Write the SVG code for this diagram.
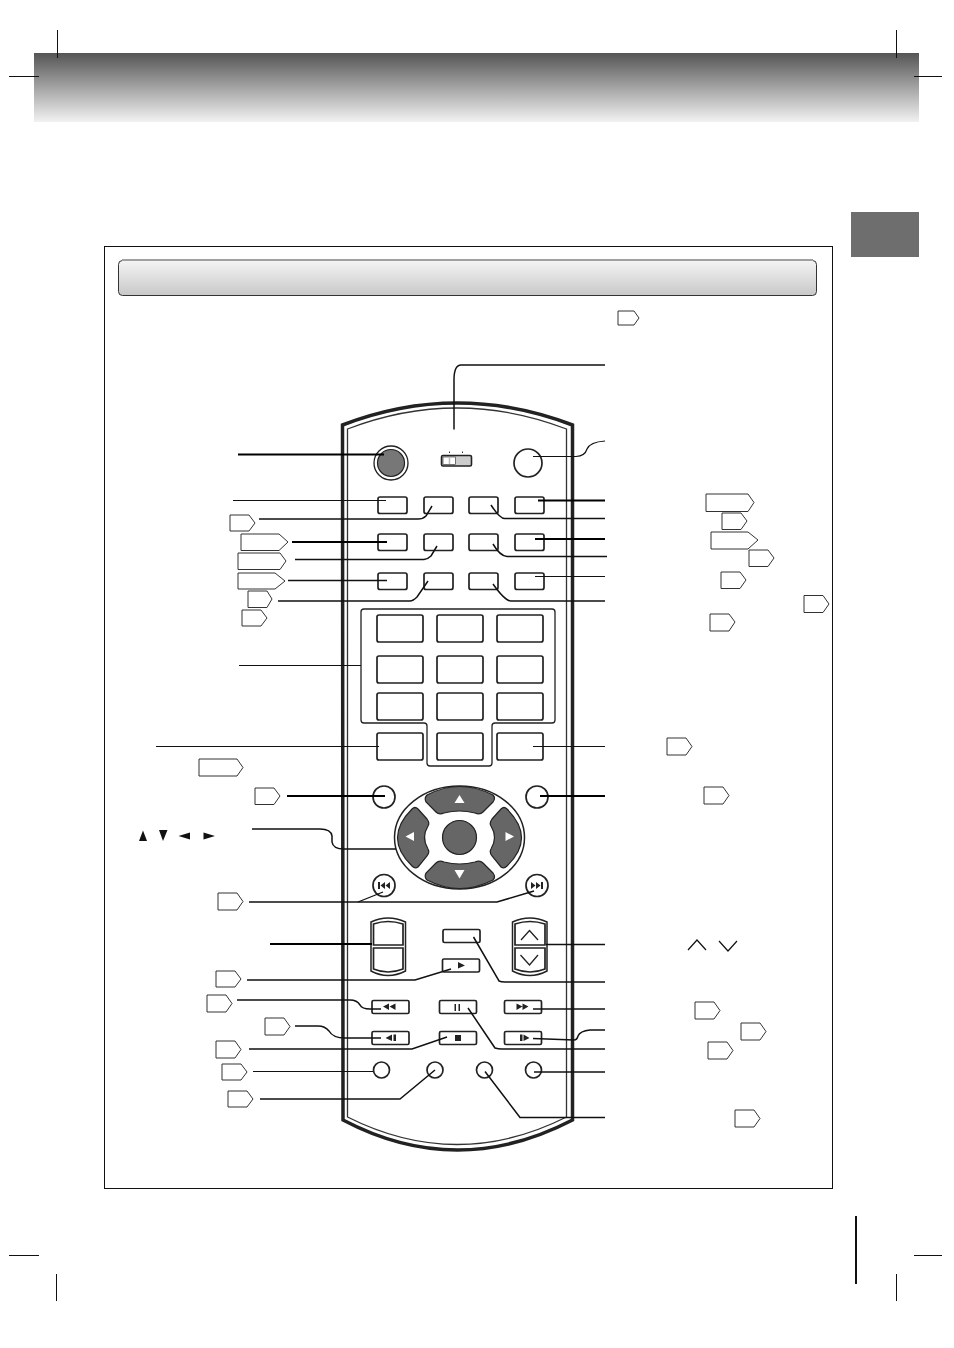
<svg xmlns="http://www.w3.org/2000/svg" width="954" height="1348" viewBox="0 0 954 1348">
<defs>
<linearGradient id="hdr" x1="0" y1="0" x2="0" y2="1"><stop offset="0" stop-color="#555"/><stop offset="1" stop-color="#f2f2f2"/></linearGradient>
<linearGradient id="bar" x1="0" y1="0" x2="0" y2="1"><stop offset="0" stop-color="#f4f4f4"/><stop offset="1" stop-color="#c8c8c8"/></linearGradient>
</defs>
<style>
.btn{fill:#fff;stroke:#222;stroke-width:1.7}
.tag{fill:#fff;stroke:#333;stroke-width:1;stroke-linejoin:round}
.c1{fill:none;stroke:#111;stroke-width:1.2}
.c3{fill:none;stroke:#111;stroke-width:1.5}
.c2{fill:none;stroke:#000;stroke-width:2}
.g{fill:#666;stroke:#222;stroke-width:1.2}
.k{fill:#222}
.w{fill:#fff}
</style>
<rect width="954" height="1348" fill="#fff"/>
<g id="page">
<rect x="34" y="53" width="885" height="69" fill="url(#hdr)"/>
<rect x="851" y="212" width="68" height="45" fill="#6e6e6e"/>
<rect x="104.500" y="246.500" width="728" height="942" fill="none" stroke="#111"/>
<rect x="118.500" y="260.500" width="698" height="35" rx="4" fill="url(#bar)" stroke="#333"/>
<path d="M122 260H813" stroke="#a0a0a0" stroke-width="2"/>
<path d="M57.500 30V58M9 76.500H39M896.500 30V58M914 76.500H942M56.500 1274V1301M9 1255.500H39M896.500 1274V1301M914 1255.500H942" stroke="#111" fill="none"/>
<path d="M856 1216V1284" stroke="#111" stroke-width="2"/>
</g>
<g id="tags" class="tags">
<path class="tag" d="M618 311H634L639 318L634 325H618Z"/>
<path class="tag" d="M230 515H249L255 523L249 531H230Z"/>
<path class="tag" d="M241 534H279L288 542L279 550.500H241Z"/>
<path class="tag" d="M238 553H280L286 561L280 569.500H238Z"/>
<path class="tag" d="M238 573H275L285 581L275 589H238Z"/>
<path class="tag" d="M248 591H267L272 599L267 607.500H248Z"/>
<path class="tag" d="M242 610H261L267 618L261 626H242Z"/>
<path class="tag" d="M706 494H748L754 502.500L748 511.500H706Z"/>
<path class="tag" d="M722 513H741L747 521L741 529.500H722Z"/>
<path class="tag" d="M711 532H748L758 540L748 549H711Z"/>
<path class="tag" d="M749 550H768L774 558L768 566.500H749Z"/>
<path class="tag" d="M721 572H740L746 580L740 588.500H721Z"/>
<path class="tag" d="M804 595.500H823L829 604L823 612.500H804Z"/>
<path class="tag" d="M710 614H729L735 622L729 631H710Z"/>
<path class="tag" d="M667 738H686L692 746.500L686 755H667Z"/>
<path class="tag" d="M704 787H723L729 795.500L723 804H704Z"/>
<path class="tag" d="M199 759H237L243 767.500L237 776H199Z"/>
<path class="tag" d="M255 788H274L280 796L274 804.500H255Z"/>
<path class="tag" d="M218 893H237L243 901.500L237 910H218Z"/>
<path class="tag" d="M216 971H235L241 979L235 987H216Z"/>
<path class="tag" d="M207 995H226L232 1003.500L226 1012H207Z"/>
<path class="tag" d="M265 1018H284L290 1026.500L284 1035H265Z"/>
<path class="tag" d="M216 1041H235L241 1049.500L235 1058H216Z"/>
<path class="tag" d="M222 1064H241L247 1072L241 1080H222Z"/>
<path class="tag" d="M228 1091H247L253 1099L247 1107H228Z"/>
<path class="tag" d="M695 1002H714L720 1010.500L714 1019H695Z"/>
<path class="tag" d="M741 1023H760L766 1031.500L760 1040H741Z"/>
<path class="tag" d="M708 1042H727L733 1050.500L727 1059H708Z"/>
<path class="tag" d="M735 1110H754L760 1118.500L754 1127H735Z"/>
</g>
<g id="remote">
<path d="M342.500 425Q457 381 572.500 425V1120Q457 1180 343 1120Z" fill="#fff" stroke="#222" stroke-width="3.500"/>
<path d="M347.500 429Q457 387 566.500 429V1117Q457 1172 347.500 1117Z" fill="none" stroke="#333" stroke-width="1.300"/>
</g>
<g id="top-buttons">
<circle cx="391" cy="463" r="17" fill="#fff" stroke="#222" stroke-width="1.300"/>
<circle cx="391" cy="463" r="13.500" fill="#777" stroke="#222" stroke-width="1.200"/>
<circle cx="528" cy="463" r="14" class="btn"/>
<rect x="441.500" y="455.500" width="30" height="10.500" rx="1.500" fill="#ccc" stroke="#222" stroke-width="1.600"/>
<rect x="443" y="457" width="12.500" height="7.500" fill="#fff" stroke="#222" stroke-width="0.600"/>
<path d="M449.500 457.500v6.500" stroke="#bbb" stroke-width="1.500"/>
<path d="M449.500 451.500v1.500M462.500 451.500v1.500" stroke="#333"/>
<rect class="btn" x="378" y="497" width="29" height="16.500" rx="2"/>
<rect class="btn" x="424" y="497" width="29" height="16.500" rx="2"/>
<rect class="btn" x="469" y="497" width="29" height="16.500" rx="2"/>
<rect class="btn" x="515" y="497" width="29" height="16.500" rx="2"/>
<rect class="btn" x="378" y="534" width="29" height="16.500" rx="2"/>
<rect class="btn" x="424" y="534" width="29" height="16.500" rx="2"/>
<rect class="btn" x="469" y="534" width="29" height="16.500" rx="2"/>
<rect class="btn" x="515" y="534" width="29" height="16.500" rx="2"/>
<rect class="btn" x="378" y="573" width="29" height="16.500" rx="2"/>
<rect class="btn" x="424" y="573" width="29" height="16.500" rx="2"/>
<rect class="btn" x="469" y="573" width="29" height="16.500" rx="2"/>
<rect class="btn" x="515" y="573" width="29" height="16.500" rx="2"/>
</g>
<g id="number-pad">
<path d="M364 609H552Q555 609 555 612V720Q555 723 552 723H495Q492 723 492 726V763Q492 766 489 766H430Q427 766 427 763V726Q427 723 424 723H364Q361 723 361 720V612Q361 609 364 609Z" fill="none" stroke="#222" stroke-width="1.300"/>
<rect class="btn" x="377" y="615" width="46" height="27" rx="2"/>
<rect class="btn" x="437" y="615" width="46" height="27" rx="2"/>
<rect class="btn" x="497" y="615" width="46" height="27" rx="2"/>
<rect class="btn" x="377" y="656" width="46" height="27" rx="2"/>
<rect class="btn" x="437" y="656" width="46" height="27" rx="2"/>
<rect class="btn" x="497" y="656" width="46" height="27" rx="2"/>
<rect class="btn" x="377" y="693" width="46" height="27" rx="2"/>
<rect class="btn" x="437" y="693" width="46" height="27" rx="2"/>
<rect class="btn" x="497" y="693" width="46" height="27" rx="2"/>
<rect class="btn" x="377" y="733" width="46" height="27" rx="2"/>
<rect class="btn" x="437" y="733" width="46" height="27" rx="2"/>
<rect class="btn" x="497" y="733" width="46" height="27" rx="2"/>
</g>
<g id="dpad">
<circle class="btn" cx="384" cy="797" r="11"/>
<circle class="btn" cx="537" cy="797" r="11"/>
<ellipse cx="459.500" cy="837.500" rx="65" ry="51.500" fill="#fff" stroke="#222" stroke-width="1.500"/>
<path class="g" d="M427 795Q459.500 778 493 795Q496 798 493 802L483 812Q480 815 475 813Q459.500 809 444 813Q439 815 436 812L426 802Q424 798 427 795Z"/>
<path class="g" d="M427 880Q459.500 897 493 880Q496 877 493 873L483 863Q480 860 475 862Q459.500 866 444 862Q439 860 436 863L426 873Q424 877 427 880Z"/>
<path class="g" d="M412 809Q383 838 412 866Q415 869 418 867L427 856Q430 852 428 849Q421 837.500 428 826Q430 823 427 819L418 809Q415 806 412 809Z"/>
<path class="g" d="M507 809Q536 838 507 866Q504 869 501 867L492 856Q489 852 491 849Q498 837.500 491 826Q489 823 492 819L501 809Q504 806 507 809Z"/>
<circle class="g" cx="459.500" cy="837.500" r="17"/>
<path class="w" d="M459.500 795L464.500 803H454.500ZM459.500 878.500L454.500 870H464.500ZM405.500 836.500L414 832V841ZM514 836.500L505.500 832V841Z"/>
<circle class="btn" cx="384" cy="885.500" r="11"/>
<circle class="btn" cx="537" cy="885.500" r="11"/>
<path class="k" d="M378 882h2v7h-2zM385 882v7l-4.500-3.500zM390 882v7l-4.500-3.500zM531 882v7l4.500-3.500zM536 882v7l4.500-3.500zM541 882h2v7h-2z"/>
</g>
<g id="lower-buttons">
<path d="M371 922Q388 914 405.500 922V971Q388 980 371 971Z" fill="#fff" stroke="#222" stroke-width="1.500"/>
<path class="btn" d="M373.500 924Q388 919 403 924V945H373.500Z"/>
<path class="btn" d="M373.500 948H403V969Q388 975 373.500 969Z"/>
<path d="M512.500 922Q530 914 547 922V971Q530 980 512.500 971Z" fill="#fff" stroke="#222" stroke-width="1.500"/>
<path class="btn" d="M515 924Q530 919 545 924V945H515Z"/>
<path class="btn" d="M515 948H545V969Q530 975 515 969Z"/>
<path d="M521 940L529.500 930.500L538 940M520.500 955L529.500 965L538 955" fill="none" stroke="#222" stroke-width="1.300"/>
<rect class="btn" x="443" y="929.500" width="37" height="13" rx="1.500"/>
<rect class="btn" x="442.500" y="959" width="37" height="13" rx="1.500"/>
<rect class="btn" x="372" y="1000.500" width="37" height="13" rx="1.500"/>
<rect class="btn" x="439.500" y="1000.500" width="37" height="13" rx="1.500"/>
<rect class="btn" x="504.500" y="1000.500" width="37" height="13" rx="1.500"/>
<rect class="btn" x="372" y="1031.500" width="37" height="13" rx="1.500"/>
<rect class="btn" x="439.500" y="1031.500" width="37" height="13" rx="1.500"/>
<rect class="btn" x="504.500" y="1031.500" width="37" height="13" rx="1.500"/>
<path class="k" d="M458 962V968.500L465 965.500ZM389 1003.500V1010L383 1006.500ZM395.500 1003.500V1010L389.500 1006.500ZM516.500 1003.500V1010L522.500 1006.500ZM522.500 1003.500V1010L528.500 1006.500ZM392 1034.500V1041L385.500 1038ZM393.500 1034.500h2.500v6.500h-2.500zM454.500 1004h1.500v7h-1.500zM458.500 1004h1.500v7h-1.500zM455 1035h6v6h-6zM520 1034.500h2.500v6.500h-2.500zM523.500 1034.500V1041L529.500 1038Z"/>
<circle class="btn" cx="381.500" cy="1070" r="8"/>
<circle class="btn" cx="435" cy="1070" r="8"/>
<circle class="btn" cx="484.500" cy="1070" r="8"/>
<circle class="btn" cx="533.500" cy="1070" r="8"/>
</g>
<g id="connectors">
<path class="c2" d="M238 454.500H384"/>
<path class="c1" d="M233 500.500H386"/>
<path class="c3" d="M259 519H418Q423 519 426 516L432 506"/>
<path class="c2" d="M292 542H387"/>
<path class="c3" d="M295 559.500H424Q428 559 431 556L437 546"/>
<path class="c3" d="M288 580.500H387"/>
<path class="c3" d="M278 601H410Q413 601 417 597L428 581"/>
<path class="c1" d="M239 665.500H361"/>
<path class="c1" d="M156 746.500H379"/>
<path class="c2" d="M287 796H385"/>
<path class="c3" d="M252 829H320Q331 829 332 836V842Q333 849 344 849H396"/>
<path class="c3" d="M249 902H497L534 891"/>
<path class="c1" d="M358 902L383 892"/>
<path class="c2" d="M270 944H372"/>
<path class="c3" d="M247 980H415L451 969"/>
<path class="c3" d="M237 1000H350Q357 1000 360 1005Q362 1009 370 1009H381"/>
<path class="c3" d="M295 1026H318Q325 1026 329 1031Q333 1038 345 1038H381"/>
<path class="c3" d="M249 1049H412L447 1037"/>
<path class="c1" d="M253 1071.500H373"/>
<path class="c3" d="M260 1099H400L435 1070"/>
<path class="c3" d="M454 429.500V380Q454 365 461 365H605"/>
<path class="c1" d="M533 456.500H576Q585 456 587 449Q590 442 605 441"/>
<path class="c2" d="M538 500.500H605"/>
<path class="c3" d="M491 505Q500 519 505 518.500H605"/>
<path class="c2" d="M535 539H605"/>
<path class="c3" d="M493 544Q500 556 507 556.500H607"/>
<path class="c1" d="M535 576.500H605"/>
<path class="c3" d="M493 584Q505 601 511 601H605"/>
<path class="c1" d="M533 746.500H605"/>
<path class="c2" d="M540 796H605"/>
<path class="c3" d="M546 944.500H605"/>
<path class="c3" d="M473.500 937L499 981Q501 982 505 982H605"/>
<path class="c3" d="M533 1009H605"/>
<path class="c3" d="M533 1038.500L574 1040Q577 1040 578 1036Q580 1031 590 1030H605"/>
<path class="c3" d="M468 1008L495 1048Q498 1049 502 1049H605"/>
<path class="c3" d="M534 1072H605"/>
<path class="c3" d="M485 1071.500L520 1117.500H605"/>
</g>
<g id="arrows">
<path d="M139 841L143 830.500L147 841ZM159 830H167.500L163 841ZM178.500 836L190 832.500V839.500ZM203.500 832.500L215 836L203.500 839.500Z" fill="#111"/>
<path d="M688 950L697 940L706 950M719 941L728 951L737 941" fill="none" stroke="#111" stroke-width="1.200"/>
</g>
</svg>
